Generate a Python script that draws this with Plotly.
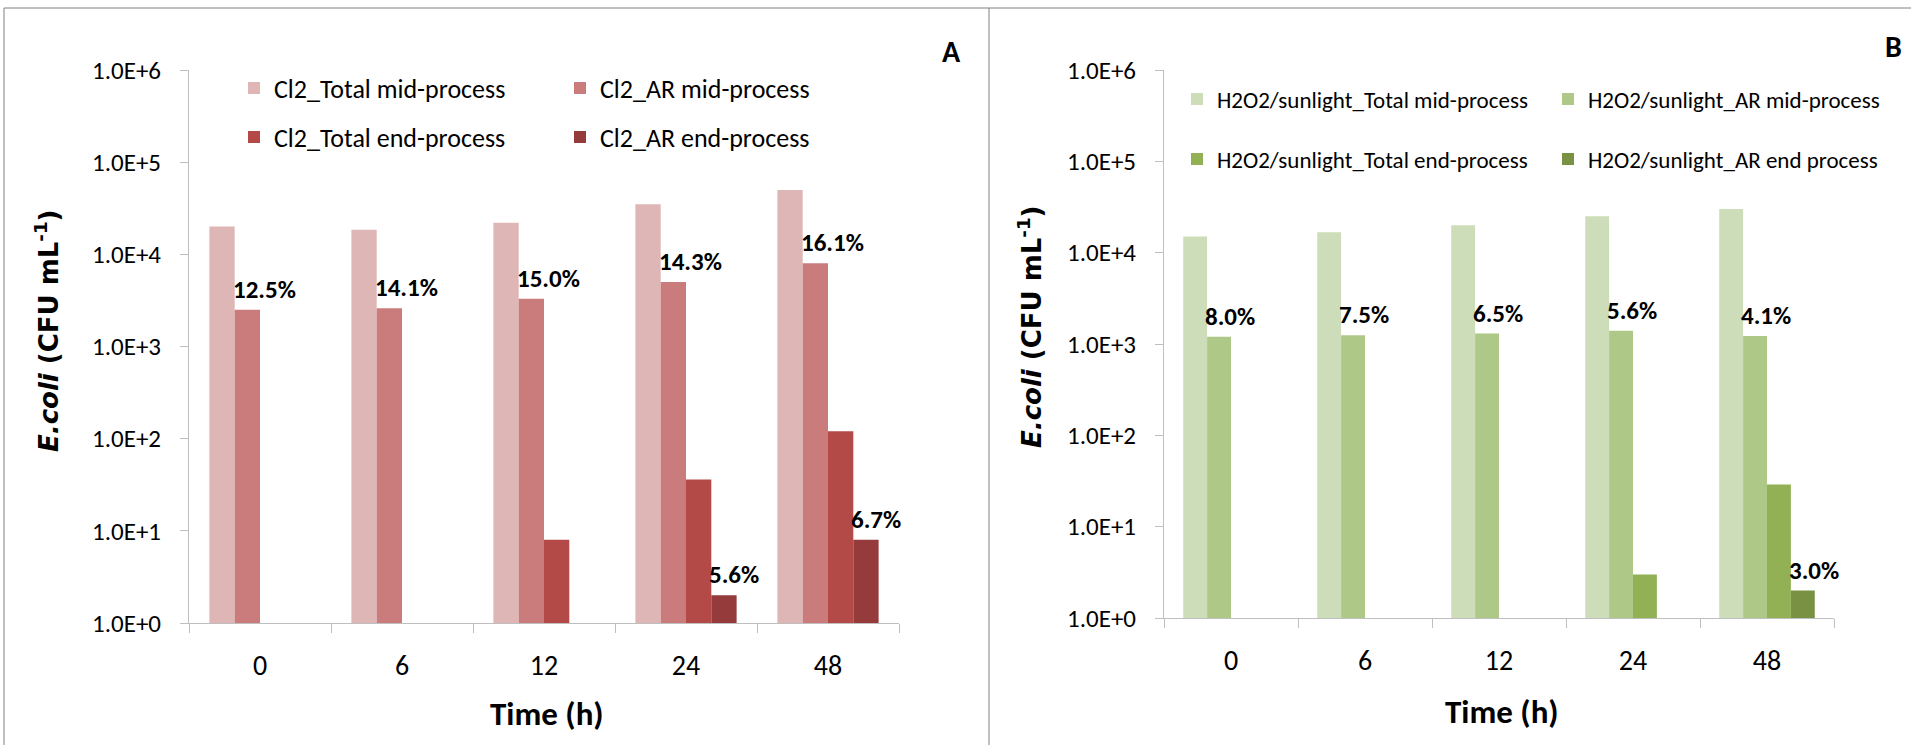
import math
import plotly.graph_objects as go

# ---------------------------------------------------------------- data
times = ["0", "6", "12", "24", "48"]

# A: chlorination (CFU/mL)
cl2_total_mid = [2.0e4, 1.85e4, 2.2e4, 3.5e4, 5.0e4]
cl2_ar_mid = [2.5e3, 2.6e3, 3.3e3, 5.0e3, 8.0e3]
cl2_total_end = [None, None, 8, 36, 120]
cl2_ar_end = [None, None, None, 2, 8]
cl2_ar_mid_pct = ["12.5%", "14.1%", "15.0%", "14.3%", "16.1%"]
cl2_ar_end_pct = [None, None, None, "5.6%", "6.7%"]

# B: H2O2/sunlight (CFU/mL)
h2o2_total_mid = [1.5e4, 1.67e4, 2.0e4, 2.5e4, 3.0e4]
h2o2_ar_mid = [1.2e3, 1.25e3, 1.3e3, 1.4e3, 1.22e3]
h2o2_total_end = [None, None, None, 3, 29]
h2o2_ar_end = [None, None, None, None, 2]
h2o2_ar_mid_pct = ["8.0%", "7.5%", "6.5%", "5.6%", "4.1%"]
h2o2_ar_end_pct = [None, None, None, None, "3.0%"]

ytick_vals = [1, 10, 100, 1e3, 1e4, 1e5, 1e6]
ytick_text = ["1.0E+0", "1.0E+1", "1.0E+2", "1.0E+3", "1.0E+4", "1.0E+5", "1.0E+6"]

names_a = ["Cl2_Total mid-process", "Cl2_AR mid-process",
           "Cl2_Total end-process", "Cl2_AR end-process"]
names_b = ["H2O2/sunlight_Total mid-process", "H2O2/sunlight_AR mid-process",
           "H2O2/sunlight_Total end-process", "H2O2/sunlight_AR end process"]
colors_a = ["#DFB6B6", "#CA7B7B", "#B44A48", "#953B3B"]
colors_b = ["#CEDDB9", "#AEC888", "#92B054", "#789142"]

# ---------------------------------------------------------------- layout helpers
W, H = 1911, 745
BARGAP = 0.287
N_SERIES = 4
FONT = "Carlito, Calibri, Lato, sans-serif"


def px(x):
    return x / W


def py(y):
    return 1 - y / H


def bar_left(idx, series):
    group = 1 - BARGAP
    width = group / N_SERIES
    return idx - group / 2 + width * series


fig = go.Figure()

series_a = [cl2_total_mid, cl2_ar_mid, cl2_total_end, cl2_ar_end]
series_b = [h2o2_total_mid, h2o2_ar_mid, h2o2_total_end, h2o2_ar_end]
legends_a = ["legend", "legend", "legend2", "legend2"]
legends_b = ["legend3", "legend3", "legend4", "legend4"]

for vals, name, col, lg in zip(series_a, names_a, colors_a, legends_a):
    fig.add_trace(go.Bar(x=times, y=vals, name=name, marker_color=col,
                         marker_line_width=0, xaxis="x", yaxis="y", legend=lg))
for vals, name, col, lg in zip(series_b, names_b, colors_b, legends_b):
    fig.add_trace(go.Bar(x=times, y=vals, name=name, marker_color=col,
                         marker_line_width=0, xaxis="x2", yaxis="y2", legend=lg))

# percentage labels above the antibiotic-resistant bars
annotations = []


def add_pct(labels, values, series, xref, yref):
    for i, (lab, v) in enumerate(zip(labels, values)):
        if lab is None or v is None:
            continue
        annotations.append(dict(
            x=bar_left(i, series), y=math.log10(v), xref=xref, yref=yref,
            text="<b>%s</b>" % lab, showarrow=False, yanchor="bottom",
            xanchor="left", xshift=-4, yshift=3,
            font=dict(family=FONT, size=25, color="black")))


add_pct(cl2_ar_mid_pct, cl2_ar_mid, 1, "x", "y")
add_pct(cl2_ar_end_pct, cl2_ar_end, 3, "x", "y")
add_pct(h2o2_ar_mid_pct, h2o2_ar_mid, 1, "x2", "y2")
add_pct(h2o2_ar_end_pct, h2o2_ar_end, 3, "x2", "y2")

# axis titles and panel letters
ytitle = "<b><i>E.coli</i> (CFU mL<sup>-1</sup>)</b>"
for xc, yc in [(47, 331), (1030, 327)]:
    annotations.append(dict(x=px(xc), y=py(yc), xref="paper", yref="paper",
                            text=ytitle, textangle=-90, showarrow=False,
                            xanchor="center", yanchor="middle",
                            font=dict(family="DejaVu Sans", size=26, color="black")))
for xc, yc in [(547, 714), (1502, 712)]:
    annotations.append(dict(x=px(xc), y=py(yc), xref="paper", yref="paper",
                            text="<b>Time (h)</b>", showarrow=False,
                            xanchor="center", yanchor="middle",
                            font=dict(family=FONT, size=33, color="black")))
for lab, xc, yc in [("A", 951, 52), ("B", 1893, 47)]:
    annotations.append(dict(x=px(xc), y=py(yc), xref="paper", yref="paper",
                            text="<b>%s</b>" % lab, showarrow=False,
                            xanchor="center", yanchor="middle",
                            font=dict(family=FONT, size=30, color="black")))

AXCOL = "#BFBFBF"
xaxis_common = dict(type="category", range=[-0.5, 4.5], showline=True,
                    linecolor=AXCOL, linewidth=1, ticks="outside",
                    tickson="boundaries", ticklen=9, tickcolor=AXCOL,
                    showgrid=False, zeroline=False, fixedrange=True,
                    tickfont=dict(family=FONT, size=28, color="black"),
                    ticklabelstandoff=17)
yaxis_common = dict(type="log", range=[0, 6], showline=True, linecolor=AXCOL,
                    linewidth=1, ticks="outside", ticklen=8, tickcolor=AXCOL,
                    tickvals=ytick_vals, ticktext=ytick_text, showgrid=False,
                    zeroline=False, fixedrange=True, ticklabelstandoff=14,
                    tickfont=dict(family=FONT, size=25, color="black"))


def legend_box(x, y, entrywidth, size):
    return dict(x=px(x), y=py(y), orientation="h", xanchor="left",
                yanchor="middle", bgcolor="rgba(0,0,0,0)",
                entrywidthmode="pixels", entrywidth=entrywidth,
                font=dict(family=FONT, size=size, color="black"),
                itemclick=False, itemdoubleclick=False)


fig.update_layout(
    width=W, height=H,
    margin=dict(l=0, r=0, t=0, b=0, autoexpand=False),
    paper_bgcolor="white", plot_bgcolor="white",
    barmode="group", bargap=BARGAP, bargroupgap=0,
    xaxis=dict(domain=[px(189), px(899)], anchor="y", **xaxis_common),
    yaxis=dict(domain=[py(623), py(70)], anchor="x", **yaxis_common),
    xaxis2=dict(domain=[px(1164), px(1834)], anchor="y2", **xaxis_common),
    yaxis2=dict(domain=[py(618), py(70)], anchor="x2", **yaxis_common),
    legend=legend_box(234, 88, 281, 26),
    legend2=legend_box(234, 137, 281, 26),
    legend3=legend_box(1177, 99, 326, 23),
    legend4=legend_box(1177, 159, 326, 23),
    annotations=annotations,
    shapes=[
        dict(type="line", xref="paper", yref="paper", x0=px(4), x1=1,
             y0=py(8), y1=py(8), line=dict(color="#808080", width=1)),
        dict(type="line", xref="paper", yref="paper", x0=px(4), x1=px(4),
             y0=0, y1=py(8), line=dict(color="#808080", width=1)),
        dict(type="line", xref="paper", yref="paper", x0=px(989), x1=px(989),
             y0=0, y1=py(8), line=dict(color="#808080", width=1)),
    ],
)

fig.write_html("out.html")
